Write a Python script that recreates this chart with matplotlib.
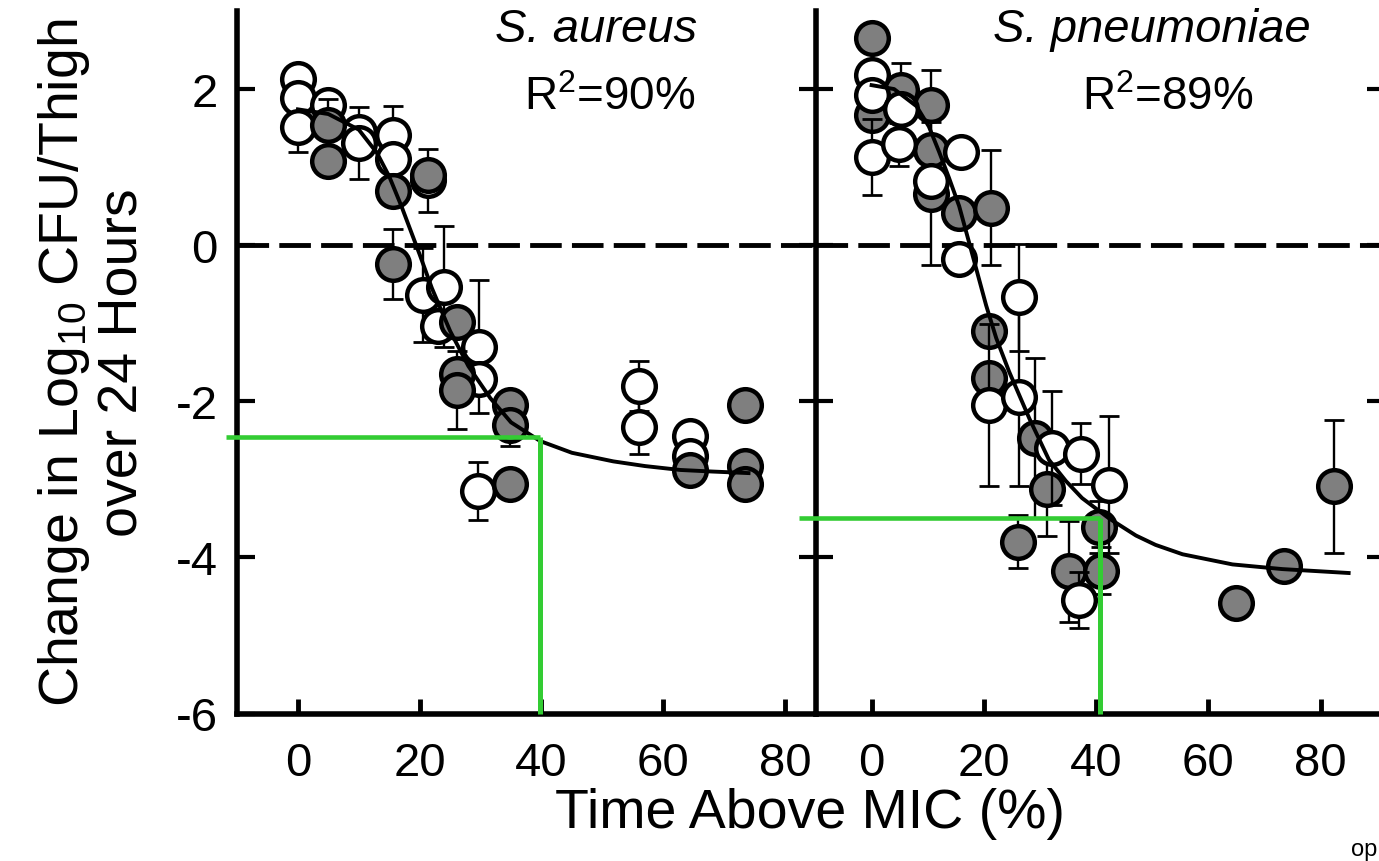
import matplotlib
matplotlib.use("Agg")
import matplotlib.pyplot as plt

plt.rcParams["font.family"] = ["Liberation Sans", "DejaVu Sans"]
plt.rcParams["mathtext.fontset"] = "custom"
plt.rcParams["mathtext.rm"] = "Liberation Sans"
plt.rcParams["mathtext.it"] = "Liberation Sans:italic"
plt.rcParams["mathtext.default"] = "regular"
plt.rcParams["axes.unicode_minus"] = False

# ── S. aureus (left panel) ────────────────────────────────────────────────────
sa_open_x   = [0, 0, 0, 5, 10, 10, 15.7, 15.7, 21.3, 20.5, 24, 23, 29.7, 29.7, 29.5, 56, 56, 64.4, 64.4]
sa_open_y   = [2.13, 1.88, 1.52, 1.80, 1.45, 1.31, 1.41, 1.10, 0.83, -0.64, -0.53, -1.03, -1.30, -1.71, -3.15, -1.81, -2.33, -2.44, -2.70]
sa_open_err = [0, 0, 0.33, 0, 0, 0.46, 0.37, 0, 0.40, 0.60, 0.77, 0, 0.85, 0, 0.37, 0.32, 0.34, 0, 0]

sa_gray_x   = [5, 5, 15.7, 15.7, 21.3, 26.2, 26.2, 26.2, 34.9, 34.9, 34.9, 64.4, 73.4, 73.4, 73.4]
sa_gray_y   = [1.54, 1.08, 0.69, -0.24, 0.90, -0.98, -1.65, -1.86, -2.05, -2.31, -3.06, -2.88, -2.05, -2.83, -3.06]
sa_gray_err = [0.33, 0, 0, 0.45, 0, 0, 0, 0.50, 0, 0.26, 0, 0, 0, 0, 0]

sa_fit_x = [0, 5, 10, 13, 15, 17, 20, 22, 25, 28, 31.6, 35, 39.8, 45, 51.8, 57, 62.8, 68, 74]
sa_fit_y = [1.74, 1.68, 1.48, 1.18, 0.88, 0.50, -0.12, -0.55, -1.10, -1.55, -1.96, -2.27, -2.51, -2.66, -2.77, -2.83, -2.88, -2.90, -2.92]

# ── S. pneumoniae (right panel) ───────────────────────────────────────────────
sp_open_x   = [0, 0, 0, 5.2, 4.9, 10.5, 15.9, 15.6, 26.3, 20.9, 26.3, 32.2, 37.3, 42.3, 37]
sp_open_y   = [2.18, 1.93, 1.13, 1.75, 1.29, 0.82, 1.20, -0.18, -0.67, -2.05, -1.94, -2.60, -2.67, -3.07, -4.55]
sp_open_err = [0, 0, 0.49, 0, 0.28, 0, 0, 0, 0.69, 1.04, 1.15, 0.73, 0.39, 0.88, 0.36]

sp_gray_x   = [0, 0, 5.2, 10.5, 10.5, 10.5, 15.6, 21.2, 20.9, 20.9, 29.2, 31.3, 40.6, 26, 35.2, 40.8, 64.9, 73.5, 82.4]
sp_gray_y   = [2.66, 1.67, 1.99, 1.80, 1.22, 0.66, 0.41, 0.48, -1.10, -1.70, -2.47, -3.13, -3.61, -3.80, -4.18, -4.17, -4.58, -4.11, -3.09]
sp_gray_err = [0, 0, 0.34, 0.44, 0, 0.92, 0, 0.74, 0, 0, 1.02, 0.59, 0.33, 0.34, 0.65, 0.30, 0, 0, 0.85]

sp_fit_x = [0, 4, 8, 10.2, 12, 13.8, 15.6, 17.5, 20.4, 22.2, 24.5, 28.1, 31.6, 34.6, 37.5, 42.3, 47.1, 50.6, 55.4, 64.3, 73.2, 85]
sp_fit_y = [2.05, 2.00, 1.78, 1.52, 1.20, 0.86, 0.50, 0.00, -0.77, -1.19, -1.62, -2.22, -2.75, -3.02, -3.24, -3.50, -3.72, -3.84, -3.96, -4.09, -4.15, -4.20]

# green target guides: (x at target, y at target)
sa_target = (39.8, -2.46)
sp_target = (40.7, -3.49)

xticks = [0, 20, 40, 60, 80]
yticks = [2, 0, -2, -4, -6]

GRAY  = "#7f7f7f"
GREEN = "#33cc33"
W, H = 1379, 862

fig = plt.figure(figsize=(W / 100, H / 100), dpi=100)


def px_axes(x0, x1, ytop, ybot):
    return fig.add_axes([x0 / W, 1 - ybot / H, (x1 - x0) / W, (ybot - ytop) / H])


ax1 = px_axes(237, 815.5, 12, 714.5)
ax2 = px_axes(815.5, 1384, 12, 714.5)
ax1.set_xlim(-10, 85)
ax2.set_xlim(-10, 91.3)


def draw_series(ax, x, y, err, face, z):
    ax.errorbar(x, y, yerr=err, fmt="none", ecolor="black", elinewidth=1.7,
                capsize=7.5, capthick=2, zorder=z)
    ax.plot(x, y, "o", ms=23.5, mfc=face, mec="black", mew=3.2, zorder=z + 0.5,
            clip_on=False)


for ax in (ax1, ax2):
    ax.set_ylim(-6, 3.0)
    ax.set_xticks(xticks)
    ax.set_yticks(yticks)
    ax.spines["top"].set_visible(False)
    ax.spines["right"].set_visible(False)
    for s in ("left", "bottom"):
        ax.spines[s].set_linewidth(4)
    ax.tick_params(axis="x", direction="in", length=11, width=3.5,
                   labelsize=34, pad=20)
    ax.axhline(0, color="black", lw=3.5, ls=(0, (6.5, 2.1)), zorder=1)
    ax.patch.set_alpha(0)

ax1.tick_params(axis="y", direction="in", length=13, width=3, labelsize=34, pad=14)
ax2.tick_params(axis="y", left=True, right=True, direction="inout", length=24,
                width=3, labelleft=False)
ax2.set_yticks([2, 0, -2, -4])

# left panel: open below, gray on top
draw_series(ax1, sa_open_x, sa_open_y, sa_open_err, "white", 3)
draw_series(ax1, sa_gray_x, sa_gray_y, sa_gray_err, GRAY, 4)
ax1.plot(sa_fit_x, sa_fit_y, color="black", lw=2.8, zorder=6)

# right panel: gray below, open on top
draw_series(ax2, sp_gray_x, sp_gray_y, sp_gray_err, GRAY, 3)
draw_series(ax2, sp_open_x, sp_open_y, sp_open_err, "white", 4)
ax2.plot(sp_fit_x, sp_fit_y, color="black", lw=2.8, zorder=6)

# green guide lines
for ax, (tx, ty), xstart in ((ax1, sa_target, -11.8), (ax2, sp_target, -12.9)):
    ax.plot([xstart, tx], [ty, ty], color=GREEN, lw=3.3, zorder=10, clip_on=False,
            solid_capstyle="butt")
    ax.plot([tx, tx], [ty, -6], color=GREEN, lw=3.6, zorder=10, clip_on=False,
            solid_capstyle="butt")

# panel titles
ax1.text(596 / W, 1 - 30 / H, "S. aureus", transform=fig.transFigure, fontsize=34,
         fontstyle="italic", ha="center", va="center")
ax1.text(610 / W, 1 - 98 / H, r"R$^2$=90%", transform=fig.transFigure, fontsize=33,
         ha="center", va="center")
ax2.text(1152 / W, 1 - 30 / H, "S. pneumoniae", transform=fig.transFigure, fontsize=34,
         fontstyle="italic", ha="center", va="center")
ax2.text(1168 / W, 1 - 98 / H, r"R$^2$=89%", transform=fig.transFigure, fontsize=33,
         ha="center", va="center")

# axis labels
fig.text(810 / W, 1 - 814 / H, "Time Above MIC (%)", fontsize=40, ha="center", va="center")
fig.text(93 / W, 1 - 363 / H, "Change in Log$_{10}$ CFU/Thigh\nover 24 Hours",
         fontsize=40, rotation=90, ha="center", va="center", multialignment="center",
         linespacing=1.15)

# small fragment at the lower right corner
fig.text(1377 / W, 1 / H, "op", fontsize=17, ha="right", va="bottom")

fig.savefig("out.png", dpi=100)
